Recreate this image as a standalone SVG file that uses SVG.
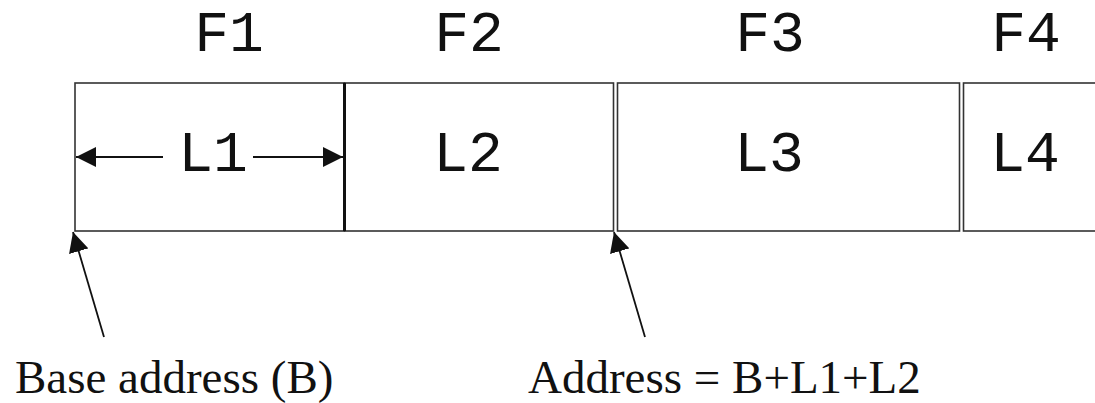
<svg xmlns="http://www.w3.org/2000/svg" width="1095" height="403" viewBox="0 0 1095 403">
  <style>
    .field { fill: #ffffff; stroke: #333333; stroke-width: 1.6; }
    .mono { font-family: "Liberation Mono", "Courier New", monospace; font-size: 58px; fill: #111111; text-anchor: middle; }
    .serif { font-family: "Liberation Serif", "Times New Roman", serif; font-size: 47px; fill: #111111; }
    .conn { stroke: #111111; stroke-width: 1.8; fill: none; }
  </style>
  <defs>
    <marker id="head" viewBox="0 0 20 20" refX="20" refY="10" markerWidth="20" markerHeight="20" markerUnits="userSpaceOnUse" orient="auto">
      <path d="M0,0 L20,10 L0,20 Z" fill="#111111"/>
    </marker>
  </defs>

  <rect width="1095" height="403" fill="#ffffff"/>

  <!-- record fields -->
  <g id="field-f1">
    <rect class="field" x="75" y="83" width="269.5" height="148"/>
    <text class="mono" x="229" y="51">F1</text>
    <text class="mono" x="213" y="171">L1</text>
  </g>
  <g id="field-f2">
    <rect class="field" x="344.5" y="83" width="269" height="148"/>
    <line x1="344.5" y1="83" x2="344.5" y2="231" stroke="#111111" stroke-width="3"/>
    <text class="mono" x="469" y="51">F2</text>
    <text class="mono" x="468" y="171">L2</text>
  </g>
  <g id="field-f3">
    <rect class="field" x="617.5" y="83" width="342" height="148"/>
    <text class="mono" x="770" y="51">F3</text>
    <text class="mono" x="769" y="171">L3</text>
  </g>
  <g id="field-f4">
    <rect class="field" x="963.5" y="83" width="140" height="148"/>
    <text class="mono" x="1026" y="51">F4</text>
    <text class="mono" x="1025" y="171">L4</text>
  </g>

  <!-- pointers and length span -->
  <g id="connectors">
    <line class="conn" x1="163" y1="157" x2="76" y2="157" marker-end="url(#head)"/>
    <line class="conn" x1="253" y1="157" x2="343" y2="157" marker-end="url(#head)"/>
    <line class="conn" x1="104" y1="337" x2="73" y2="232" marker-end="url(#head)"/>
    <line class="conn" x1="645" y1="337" x2="614" y2="232" marker-end="url(#head)"/>
  </g>

  <g id="labels">
    <text class="serif" x="15" y="393">Base address (B)</text>
    <text class="serif" x="528" y="393">Address = B+L1+L2</text>
  </g>
</svg>
